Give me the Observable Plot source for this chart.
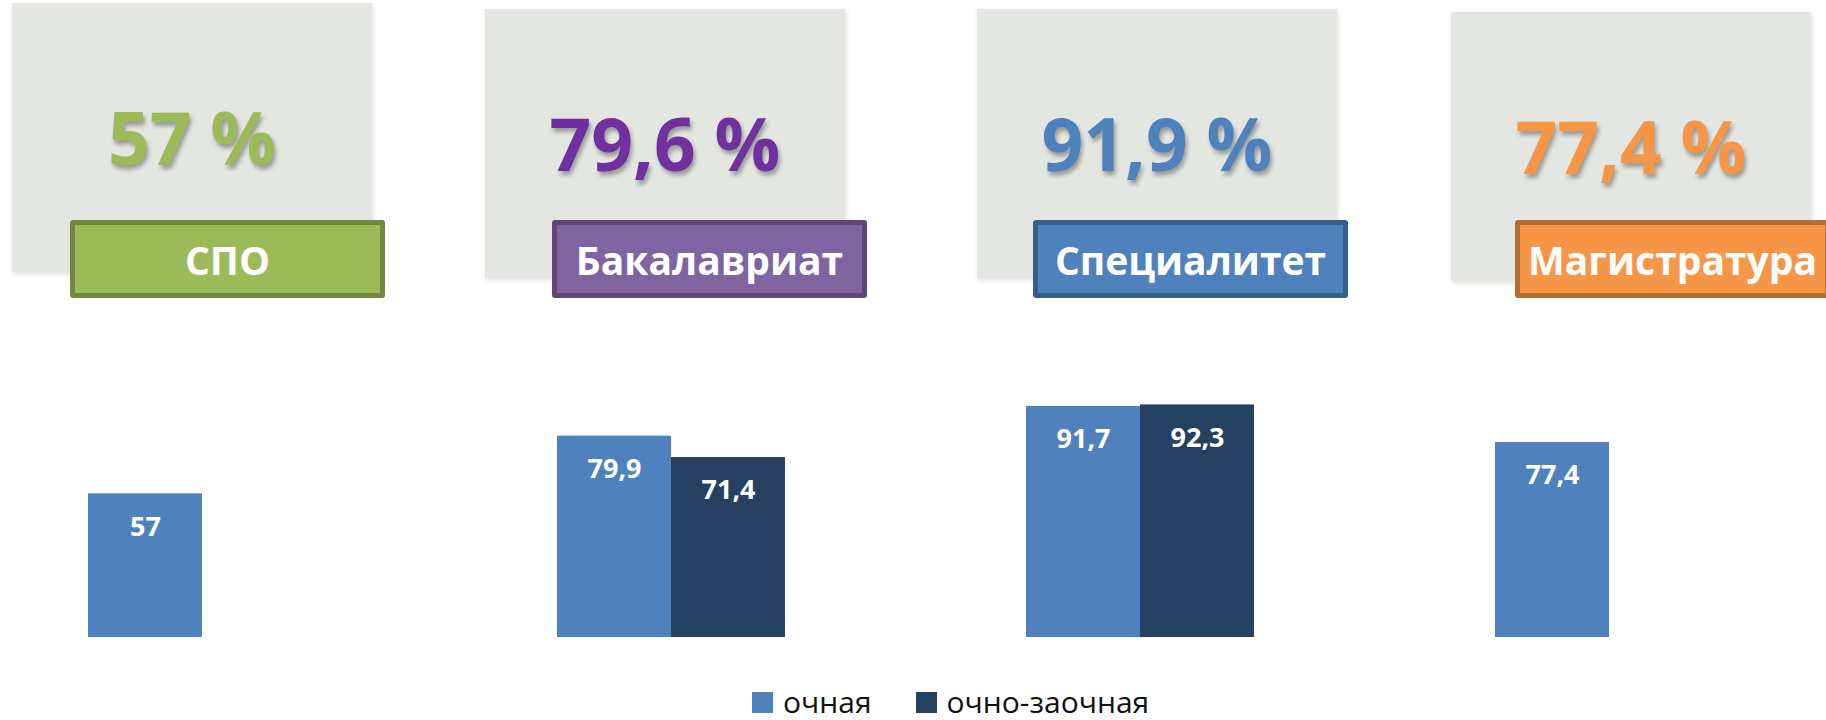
<!DOCTYPE html>
<html lang="ru">
<head>
<meta charset="utf-8">
<script src="https://cdn.jsdelivr.net/npm/d3@7"></script>
<script src="https://cdn.jsdelivr.net/npm/@observablehq/plot@0.6"></script>
<style>
  html, body { margin: 0; padding: 0; background: #fff; overflow: hidden; }
  #page { position: relative; width: 1826px; height: 720px; font-family: "Open Sans", "Noto Sans", sans-serif; }
  .panel { position: absolute; width: 360px; height: 269px; background: #E3E6E1;
           box-shadow: 1px 2px 5px rgba(0,0,0,0.13); }
  .pct { position: absolute; left: 0; right: 0; top: 98px; text-align: center; font-size: 73px;
         line-height: 72px; font-weight: 700; text-shadow: 2px 4px 4px rgba(0,0,0,0.33); white-space: nowrap; }
  .tag { position: absolute; top: 220px; width: 315px; height: 78px; box-sizing: border-box;
         border: 5px solid; border-radius: 3px; display: flex; align-items: center; justify-content: center;
         color: #fff; font-size: 39px; font-weight: 700; white-space: nowrap; }
  #chart { position: absolute; left: 0; top: 300px; }
  #legend { position: absolute; left: 752px; top: 684px; height: 36px; display: flex; align-items: center; }
  #legend .lg-swatches { min-height: 0 !important; }
  #legend .lg-swatch { margin-right: 44px !important; line-height: 30px; }
  #legend .lg-swatch:last-child { margin-right: 0 !important; }
  #legend .lg-swatch > svg { margin-right: 10px !important; }
</style>
</head>
<body>
<div id="page">
  <div id="header"></div>
  <div id="chart"></div>
  <div id="legend"></div>
</div>
<script>
// ---- data ----
const categories = ["СПО", "Бакалавриат", "Специалитет", "Магистратура"];
const totals = [57, 79.6, 91.9, 77.4];
const forms = ["очная", "очно-заочная"];
const fullTime = [57, 79.9, 91.7, 77.4];
const partTime = [null, 71.4, 92.3, null];

// ---- styles / layout ----
const formColors = ["#4F81BD", "#254061"];
const pctColors = ["#9BBB59", "#7030A0", "#4F81BD", "#F79646"];
const tagFill = ["#9BBB59", "#8064A2", "#4F81BD", "#F79646"];
const tagBorder = ["#71893F", "#5C4776", "#385D8A", "#B66D31"];
const panelLeft = [12, 485, 977, 1451];
const panelTop = [3, 9, 9, 12];
const tagLeft = [70, 552, 1033, 1515];

const fmt = v => String(v).replace(".", ",");

// ---- header cards ----
const header = document.getElementById("header");
categories.forEach((c, i) => {
  const p = document.createElement("div");
  p.className = "panel";
  p.style.left = panelLeft[i] + "px";
  p.style.top = panelTop[i] + "px";
  const t = document.createElement("div");
  t.className = "pct";
  t.style.color = pctColors[i];
  t.textContent = fmt(totals[i]) + " %";
  p.appendChild(t);
  header.appendChild(p);
});
categories.forEach((c, i) => {
  const g = document.createElement("div");
  g.className = "tag";
  g.style.left = tagLeft[i] + "px";
  g.style.background = tagFill[i];
  g.style.borderColor = tagBorder[i];
  g.textContent = c;
  header.appendChild(g);
});

// ---- bars ----
const rows = [];
categories.forEach((c, i) => {
  if (fullTime[i] != null) rows.push({cat: c, form: forms[0], value: fullTime[i]});
  if (partTime[i] != null) rows.push({cat: c, form: forms[1], value: partTime[i]});
});

const chart = Plot.plot({
  width: 1826,
  height: 380,
  marginTop: 85,
  marginBottom: 43,
  marginLeft: 0,
  marginRight: 0,
  style: {background: "transparent", overflow: "visible"},
  fx: {domain: categories, range: [-33, 1843], paddingInner: 0.512, paddingOuter: 0.256, axis: null, label: null},
  x: {domain: forms, padding: 0, axis: null, label: null},
  y: {domain: [0, 100], axis: null},
  color: {domain: forms, range: formColors},
  marks: [
    Plot.barY(rows, {fx: "cat", x: "form", y: "value", fill: "form"}),
    Plot.text(rows, {fx: "cat", x: "form", y: "value", text: d => fmt(d.value), dy: 33,
      fill: "white", fontSize: 27, fontWeight: "bold", fontFamily: "Open Sans"})
  ]
});
document.getElementById("chart").appendChild(chart);

const legend = Plot.legend({
  color: {domain: forms, range: formColors},
  legend: "swatches",
  swatchSize: 21,
  className: "lg",
  style: {fontSize: "30px", fontFamily: "Open Sans", color: "#111", margin: "0", lineHeight: "30px"}
});
document.getElementById("legend").appendChild(legend);
</script>
</body>
</html>
